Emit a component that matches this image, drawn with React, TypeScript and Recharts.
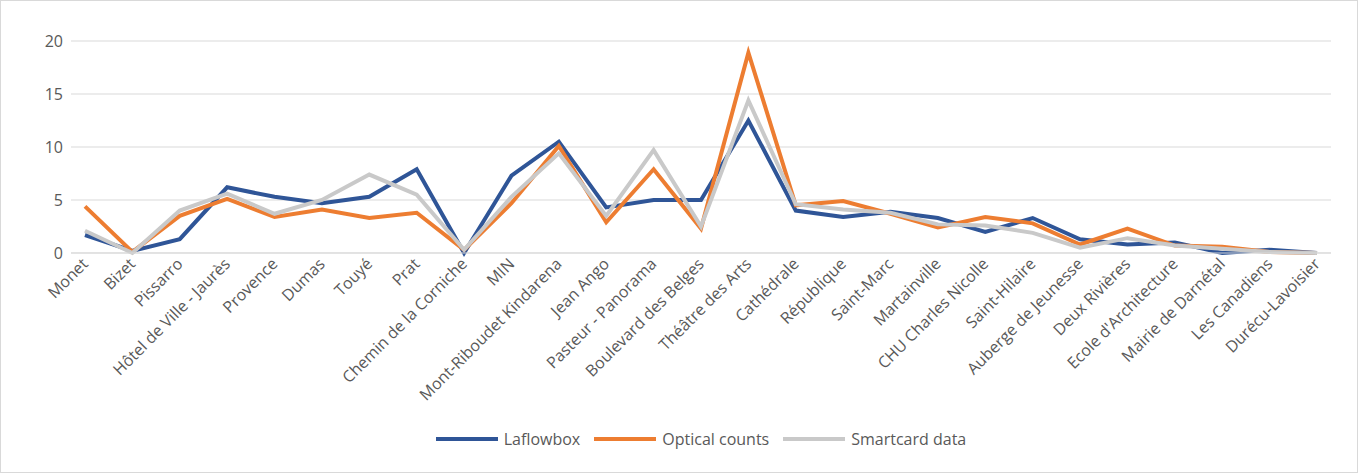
import { LineChart, Line, XAxis, YAxis, CartesianGrid, Legend } from 'recharts';

const stops = [
  'Monet', 'Bizet', 'Pissarro', 'Hôtel de Ville - Jaurès', 'Provence', 'Dumas', 'Touyé', 'Prat',
  'Chemin de la Corniche', 'MIN', 'Mont-Riboudet Kindarena', 'Jean Ango', 'Pasteur - Panorama',
  'Boulevard des Belges', 'Théâtre des Arts', 'Cathédrale', 'République', 'Saint-Marc',
  'Martainville', 'CHU Charles Nicolle', 'Saint-Hilaire', 'Auberge de Jeunesse', 'Deux Rivières',
  "Ecole d'Architecture", 'Mairie de Darnétal', 'Les Canadiens', 'Durécu-Lavoisier',
];
const laflowbox = [1.7, 0.2, 1.3, 6.2, 5.3, 4.7, 5.3, 7.9, 0, 7.3, 10.5, 4.3, 5.0, 5.0, 12.5, 4.0, 3.4, 3.9, 3.3, 2.0, 3.3, 1.3, 0.8, 1.0, 0, 0.3, 0];
const optical = [4.4, 0.1, 3.5, 5.1, 3.4, 4.1, 3.3, 3.8, 0.3, 4.7, 10.1, 2.9, 7.9, 2.3, 18.9, 4.5, 4.9, 3.7, 2.4, 3.4, 2.8, 0.8, 2.3, 0.7, 0.6, 0.1, 0];
const smartcard = [2.1, 0, 4.0, 5.6, 3.7, 5.0, 7.4, 5.5, 0.3, 5.3, 9.4, 3.5, 9.7, 2.5, 14.4, 4.6, 4.1, 3.8, 2.7, 2.6, 1.9, 0.5, 1.4, 0.7, 0.4, 0.1, 0];
const yTicks = [0, 5, 10, 15, 20];

const data = stops.map((name, i) => ({
  name,
  laflowbox: laflowbox[i],
  optical: optical[i],
  smartcard: smartcard[i],
}));

const font = '"Open Sans", "Liberation Sans", sans-serif';

const RotTick = ({ x, y, payload }: any) => (
  <text x={x + 4} y={y + 4} transform={`rotate(-45 ${x + 4} ${y + 4})`} textAnchor="end"
    fill="#595959" fontSize={16} fontFamily={font}>
    {payload.value}
  </text>
);

const LegendBox = ({ payload }: any) => (
  <div style={{ display: 'flex', justifyContent: 'center', gap: 14, fontFamily: font, fontSize: 16, color: '#595959', paddingLeft: 60, marginTop: -4 }}>
    {payload.map((p: any) => (
      <div key={p.value} style={{ display: 'flex', alignItems: 'center', gap: 6 }}>
        <span style={{ display: 'inline-block', width: 62, height: 4, background: p.color }} />
        <span>{p.value}</span>
      </div>
    ))}
  </div>
);

export default function App() {
  return (
    <div style={{ position: 'absolute', left: 0, top: 0, width: 1358, height: 473, background: '#fff', border: '1px solid #d9d9d9', boxSizing: 'border-box' }}>
      <LineChart width={1356} height={471} data={data} margin={{ top: 40, right: 26, left: 10, bottom: 0 }}>
        <CartesianGrid vertical={false} stroke="#d9d9d9" />
        <XAxis dataKey="name" interval={0} tick={<RotTick />} tickLine={false} axisLine={{ stroke: '#d9d9d9' }}
          height={179} padding={{ left: 14, right: 14 }} />
        <YAxis domain={[0, 20]} ticks={yTicks} axisLine={false} tickLine={false} width={60}
          tick={{ fill: '#595959', fontSize: 16, fontFamily: font }} />
        <Legend verticalAlign="bottom" height={40} content={<LegendBox />} />
        <Line dataKey="laflowbox" name="Laflowbox" stroke="#2f5597" strokeWidth={4} dot={false} isAnimationActive={false} />
        <Line dataKey="optical" name="Optical counts" stroke="#ed7d31" strokeWidth={4} dot={false} isAnimationActive={false} />
        <Line dataKey="smartcard" name="Smartcard data" stroke="#c9c9c9" strokeWidth={4} dot={false} isAnimationActive={false} />
      </LineChart>
    </div>
  );
}
